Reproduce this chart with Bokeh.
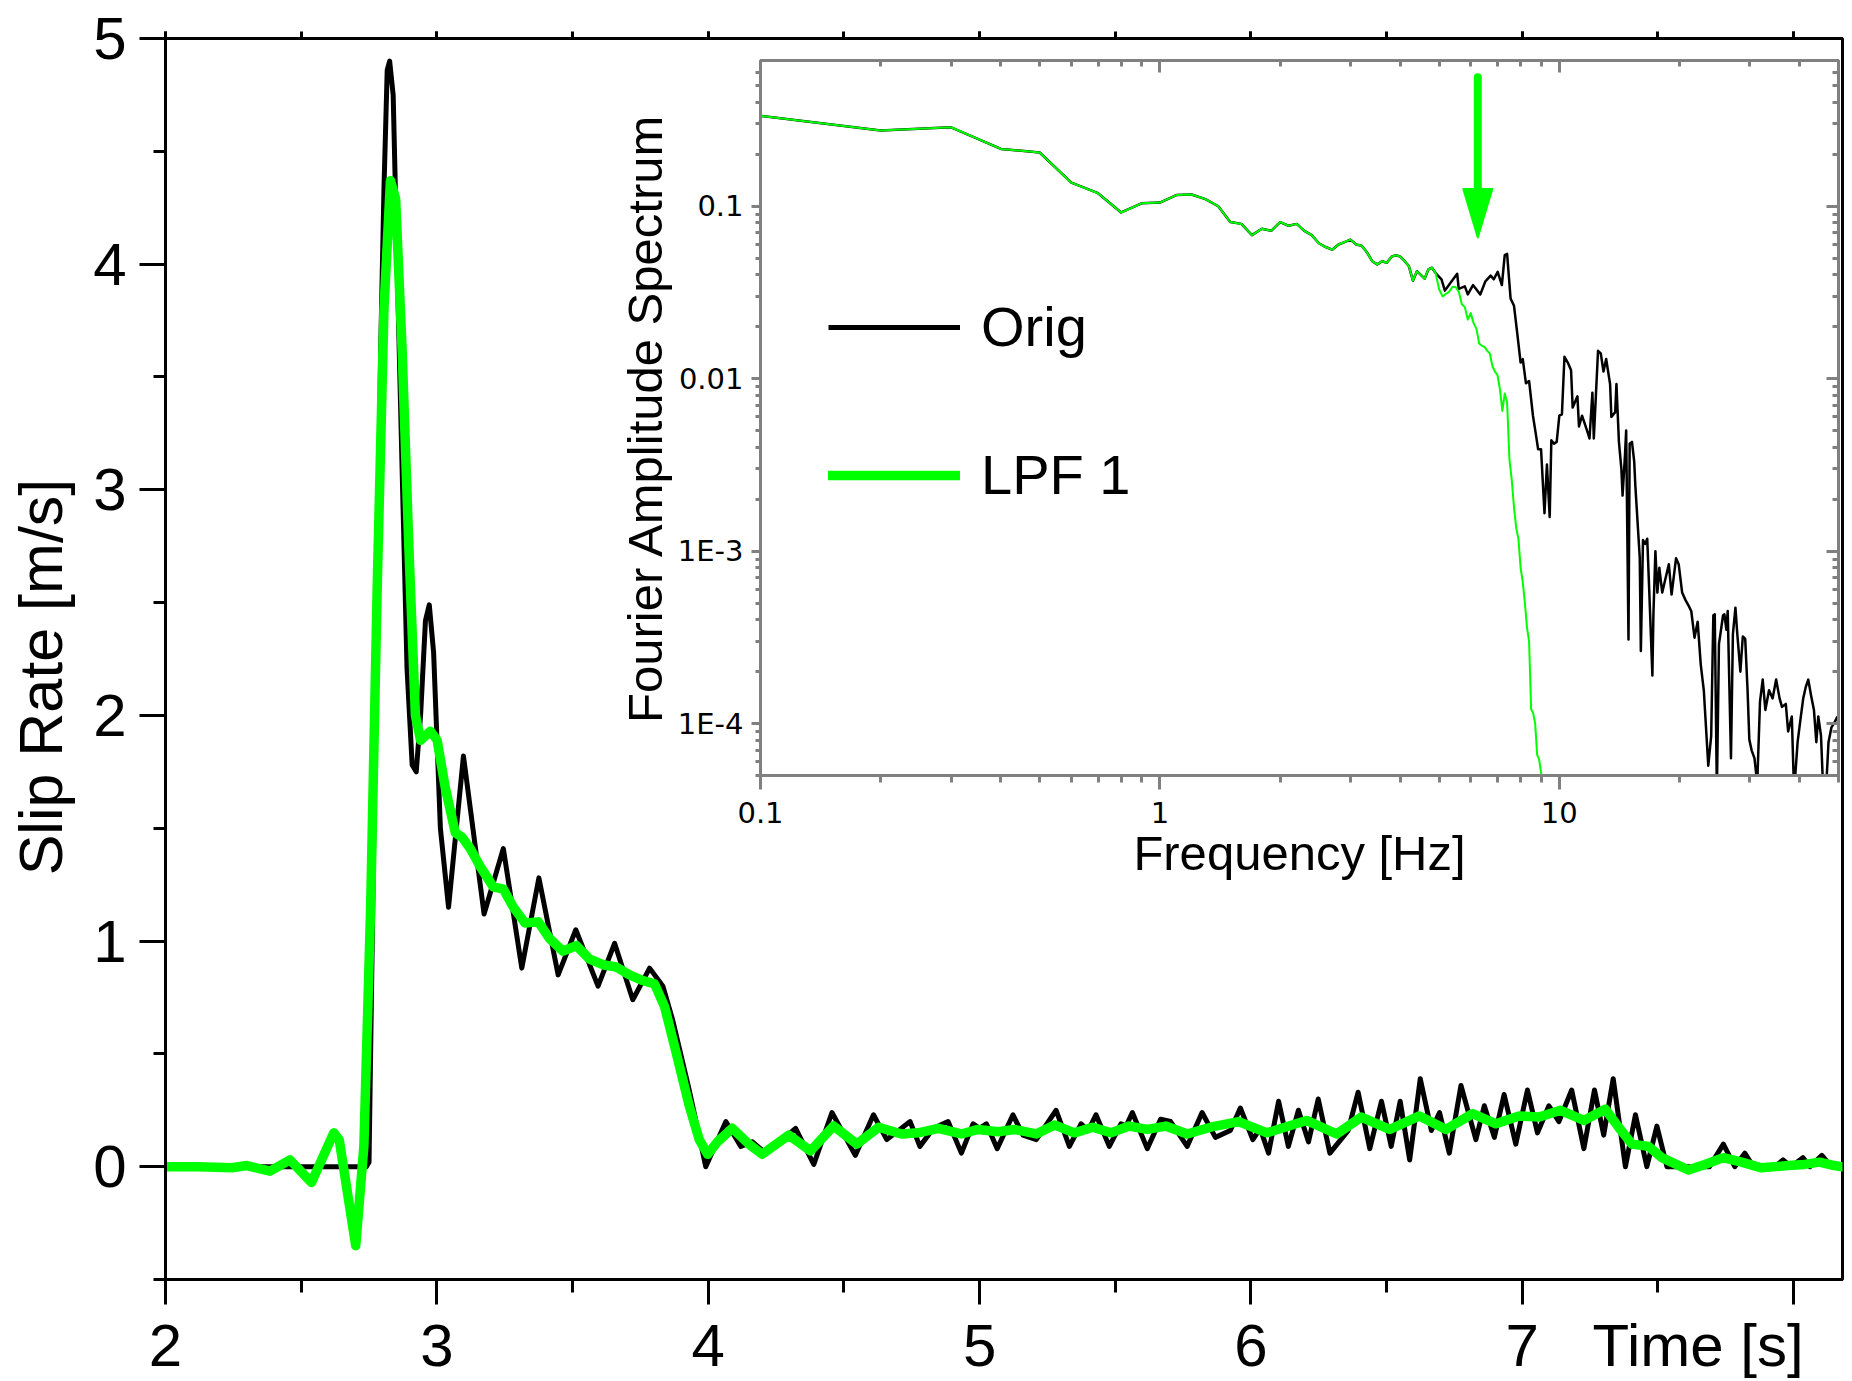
from bokeh.plotting import figure
from bokeh.models import (Range1d, SingleIntervalTicker, LinearAxis, LogAxis, FixedTicker,
                          Legend, LegendItem)
from bokeh.layouts import column
from bokeh.embed import file_html
from bokeh.resources import INLINE

# ---------------- data: slip-rate time series ----------------
orig_t = [2.00, 2.74, 2.750, 2.768, 2.793, 2.805, 2.817, 2.826, 2.839, 2.854, 2.872, 2.890,
          2.909, 2.924, 2.940, 2.958, 2.972, 2.988, 3.013, 3.043, 3.098, 3.174, 3.245, 3.313,
          3.376, 3.447, 3.512, 3.594, 3.655, 3.722, 3.784, 3.833, 3.869, 3.930, 3.991, 4.065,
          4.120, 4.163, 4.212, 4.322, 4.389, 4.456, 4.542, 4.609, 4.658, 4.744, 4.780, 4.830,
          4.884, 4.933, 4.976, 5.000, 5.025, 5.065, 5.123, 5.160, 5.209, 5.282, 5.331, 5.374,
          5.400, 5.429, 5.478, 5.521, 5.540, 5.563, 5.618, 5.667, 5.704, 5.765, 5.820, 5.869,
          5.924, 5.961, 6.007, 6.034, 6.065, 6.102, 6.138, 6.175, 6.212, 6.248, 6.291, 6.358,
          6.395, 6.438, 6.481, 6.517, 6.550, 6.585, 6.624, 6.665, 6.695, 6.731, 6.774, 6.829,
          6.860, 6.897, 6.933, 6.976, 7.019, 7.056, 7.098, 7.135, 7.182, 7.227, 7.266, 7.300,
          7.335, 7.380, 7.417, 7.459, 7.496, 7.533, 7.612, 7.690, 7.741, 7.783, 7.820, 7.851,
          7.930, 7.961, 7.990, 8.034, 8.060, 8.104, 8.138, 8.200]
orig_v = [0.00, 0.00, 0.02, 1.50, 3.62, 4.33, 4.86, 4.90, 4.75, 3.98, 3.09, 2.21,
          1.78, 1.75, 2.00, 2.42, 2.49, 2.28, 1.50, 1.15, 1.82, 1.12, 1.41, 0.88,
          1.28, 0.85, 1.05, 0.80, 0.99, 0.74, 0.88, 0.80, 0.65, 0.34, 0.00, 0.20,
          0.09, 0.11, 0.06, 0.17, 0.01, 0.24, 0.05, 0.23, 0.12, 0.20, 0.09, 0.17,
          0.20, 0.06, 0.19, 0.17, 0.19, 0.08, 0.23, 0.14, 0.12, 0.25, 0.09, 0.19,
          0.16, 0.23, 0.09, 0.19, 0.18, 0.24, 0.08, 0.21, 0.20, 0.09, 0.24, 0.13,
          0.16, 0.26, 0.12, 0.17, 0.06, 0.29, 0.09, 0.25, 0.11, 0.30, 0.06, 0.16,
          0.33, 0.08, 0.29, 0.09, 0.29, 0.03, 0.39, 0.16, 0.24, 0.06, 0.36, 0.12,
          0.27, 0.13, 0.32, 0.10, 0.34, 0.15, 0.27, 0.20, 0.34, 0.08, 0.34, 0.14,
          0.39, 0.00, 0.23, 0.00, 0.18, 0.00, 0.00, 0.00, 0.10, 0.00, 0.06, 0.00,
          0.00, 0.03, 0.00, 0.04, 0.00, 0.05, 0.00, 0.00]

lpf_t = [2.000, 2.120, 2.245, 2.300, 2.385, 2.459, 2.538, 2.620, 2.640, 2.701, 2.731, 2.756,
         2.780, 2.805, 2.829, 2.848, 2.872, 2.897, 2.921, 2.940, 2.976, 3.001, 3.031, 3.068,
         3.093, 3.123, 3.160, 3.208, 3.245, 3.282, 3.325, 3.374, 3.416, 3.465, 3.514, 3.563,
         3.612, 3.661, 3.710, 3.759, 3.802, 3.839, 3.881, 3.930, 3.967, 3.998, 4.034, 4.089,
         4.150, 4.199, 4.297, 4.377, 4.462, 4.548, 4.628, 4.713, 4.774, 4.848, 4.933, 4.995,
         5.068, 5.129, 5.209, 5.276, 5.349, 5.417, 5.484, 5.551, 5.618, 5.686, 5.765, 5.851,
         5.955, 6.059, 6.205, 6.316, 6.407, 6.511, 6.621, 6.719, 6.817, 6.903, 6.988, 7.062,
         7.141, 7.227, 7.306, 7.355, 7.404, 7.465, 7.514, 7.612, 7.673, 7.741, 7.808, 7.881,
         7.979, 8.040, 8.095, 8.150, 8.200]
lpf_v = [0.000, 0.000, -0.005, 0.005, -0.020, 0.030, -0.070, 0.150, 0.120, -0.350, 0.090, 1.150,
         2.560, 3.800, 4.370, 4.290, 3.620, 2.740, 2.000, 1.890, 1.930, 1.890, 1.680, 1.480,
         1.460, 1.410, 1.330, 1.240, 1.230, 1.150, 1.080, 1.085, 1.010, 0.955, 0.980, 0.920,
         0.895, 0.885, 0.850, 0.825, 0.810, 0.710, 0.510, 0.270, 0.120, 0.055, 0.110, 0.170,
         0.100, 0.055, 0.140, 0.070, 0.180, 0.100, 0.175, 0.145, 0.150, 0.170, 0.145, 0.165,
         0.155, 0.165, 0.145, 0.185, 0.150, 0.175, 0.150, 0.180, 0.165, 0.180, 0.145, 0.175,
         0.200, 0.150, 0.205, 0.145, 0.220, 0.165, 0.225, 0.165, 0.235, 0.190, 0.225, 0.220,
         0.250, 0.205, 0.255, 0.175, 0.100, 0.090, 0.040, -0.015, 0.010, 0.040, 0.020, -0.005,
         0.005, 0.010, 0.020, 0.005, -0.005]

# ---------------- data: Fourier amplitude spectrum ----------------
# part shared by both spectra (identical below ~4.9 Hz)
spec_f_common = [0.1, 0.2, 0.3, 0.4, 0.5, 0.6, 0.7, 0.8, 0.9, 1.0, 1.1, 1.2, 1.3, 1.4, 1.5,
                 1.6, 1.7, 1.8, 1.9, 2.0, 2.1, 2.2, 2.3, 2.4, 2.5, 2.6, 2.7, 2.8, 2.9, 3.0,
                 3.1, 3.2, 3.3, 3.4, 3.5, 3.6, 3.7, 3.8, 3.9, 4.0, 4.1, 4.2, 4.3, 4.4, 4.5,
                 4.6, 4.7, 4.8, 4.9]
spec_a_common = [0.334, 0.275, 0.287, 0.215, 0.205, 0.137, 0.119, 0.092, 0.104, 0.105, 0.116,
                 0.117, 0.110, 0.100, 0.081, 0.079, 0.068, 0.074, 0.072, 0.081, 0.077, 0.079,
                 0.072, 0.068, 0.061, 0.058, 0.056, 0.060, 0.062, 0.064, 0.060, 0.059, 0.054,
                 0.048, 0.046, 0.048, 0.047, 0.051, 0.052, 0.051, 0.048, 0.045, 0.037, 0.042,
                 0.040, 0.038, 0.043, 0.044, 0.041]

lpf_f_high = [5.0, 5.1, 5.2, 5.3, 5.4, 5.5, 5.6, 5.7, 5.8, 5.9, 6.0, 6.1, 6.2, 6.3, 6.4, 6.5,
              6.6, 6.7, 6.8, 6.9, 7.0, 7.1, 7.2, 7.3, 7.4, 7.5, 7.6, 7.7, 7.8, 7.9, 8.0, 8.1,
              8.2, 8.3, 8.4, 8.5, 8.6, 8.7, 8.8, 8.9, 9.0, 9.1]
lpf_a_high = [0.033, 0.030, 0.031, 0.032, 0.034, 0.034, 0.032, 0.027, 0.026, 0.022, 0.024,
              0.021, 0.0195, 0.016, 0.0155, 0.0153, 0.0145, 0.014, 0.0118, 0.011, 0.0105,
              0.0087, 0.0065, 0.0082, 0.0073, 0.0034, 0.0026, 0.0018, 0.00136, 0.00118, 0.0008,
              0.00066, 0.0005, 0.00036, 0.0003, 0.000121, 0.000115, 0.0001, 0.000066, 0.000062,
              0.000052, 0.000045]

orig_f_high = [5.07, 5.17, 5.33, 5.55, 5.6, 5.8, 5.9, 6.08, 6.34, 6.53, 6.73, 6.85, 7.01, 7.18,
               7.3, 7.4, 7.55, 7.7, 7.84, 8.0, 8.1, 8.25, 8.4, 8.59, 8.73, 8.85, 9.0, 9.18, 9.31,
               9.46, 9.55, 9.7, 9.85, 10.0, 10.15, 10.3, 10.5, 10.7, 10.8, 11.1, 11.2, 11.4,
               11.7, 11.9, 12.1, 12.2, 12.5, 12.7, 12.9, 13.1, 13.4, 13.5, 13.8, 13.9, 14.1,
               14.3, 14.4, 14.6, 14.7, 14.9, 15.0, 15.2, 15.4, 15.5, 15.9, 16.0, 16.2, 16.4,
               16.6, 16.8, 17.1, 17.2, 17.4, 17.6, 17.8, 18.1, 18.8, 19.1, 19.6, 19.9, 20.3,
               20.7, 21.1, 21.4, 21.8, 22.2, 22.6, 23.0, 23.3, 23.6, 24.0, 24.3, 24.5, 24.8,
               25.1, 25.4, 25.7, 25.9, 26.2, 26.4, 26.9, 27.2, 27.6, 27.9, 28.4, 28.8, 29.2,
               29.6, 29.9, 30.3, 30.8, 31.3, 31.8, 32.3, 32.8, 33.5, 34.2, 34.9, 35.6, 36.1,
               36.9, 37.4, 38.2, 38.7, 39.5, 40.2, 40.8, 41.4, 42.0, 42.7, 43.4, 44.0, 44.5,
               45.2, 45.8, 46.5, 47.2, 48.0, 48.7, 49.7]
orig_a_high = [0.0377, 0.0324, 0.0358, 0.0406, 0.0332, 0.0343, 0.0308, 0.0349, 0.0308, 0.0367,
               0.0396, 0.0377, 0.0416, 0.0349, 0.0521, 0.053, 0.0292, 0.0265, 0.0186, 0.0124,
               0.013, 0.0094, 0.0097, 0.0061, 0.0048, 0.0039, 0.0039, 0.00166, 0.00318, 0.00158,
               0.0044, 0.0042, 0.0043, 0.0061, 0.0062, 0.0134, 0.0124, 0.0112, 0.0068, 0.0079,
               0.00528, 0.0061, 0.0051, 0.0045, 0.0083, 0.0045, 0.0145, 0.014, 0.011, 0.013,
               0.0093, 0.006, 0.0064, 0.0093, 0.0043, 0.003, 0.0021, 0.0036, 0.005, 0.000307,
               0.0042, 0.0043, 0.0033, 0.0024, 0.00091, 0.000264, 0.00116, 0.0011, 0.00118,
               0.000575, 0.00019, 0.000425, 0.001, 0.000575, 0.0008, 0.000575, 0.00084, 0.00056,
               0.00091, 0.00084, 0.000575, 0.00052, 0.00048, 0.000448, 0.000315, 0.00039,
               0.00022, 0.000156, 0.000094, 0.000057, 0.000085, 0.000425, 0.00043, 0.00004,
               0.00029, 0.00035, 0.000425, 0.00043, 0.00035, 0.00045, 0.000063, 0.00033,
               0.00047, 0.00033, 0.0002, 0.00032, 0.00031, 0.000156, 0.000081, 0.00007,
               0.000063, 0.000045, 0.000134, 0.00018, 0.00012, 0.000156, 0.00014, 0.00018,
               0.00014, 0.000125, 0.00013, 0.00009, 0.00011, 0.00004, 0.000078, 0.000108,
               0.00014, 0.000163, 0.00018, 0.000145, 0.00012, 0.000078, 0.00011, 0.000085,
               0.00004, 0.00004, 0.000078, 0.000095, 0.0001, 0.00011]

lpf_f = spec_f_common + lpf_f_high
lpf_a = spec_a_common + lpf_a_high
orig_f = spec_f_common + orig_f_high
orig_a = spec_a_common + orig_a_high

# tick labels
time_ticks = [2, 3, 4, 5, 6, 7, 8]
time_label_ticks = [2, 3, 4, 5, 6, 7]
time_labels = ["2", "3", "4", "5", "6", "7"]
freq_ticks = [0.1, 1.0, 10.0]
freq_labels = ["0.1", "1", "10"]
amp_ticks = [1e-4, 1e-3, 1e-2, 1e-1]
amp_labels = ["1E-4", "1E-3", "0.01", "0.1"]

# axis titles placed in the tick-label rows (positions along the axes, in data units)
TIME_TITLE = "Time [s]"
TIME_TITLE_AT = 7.648
RATE_TITLE = "Slip Rate [m/s]"
RATE_TITLE_AT = 2.17

# arrow marking the filter corner (frequency, top, head base, tip)
ARROW_F = 6.25
ARROW_TOP = 0.56
ARROW_BASE = 0.126
ARROW_TIP = 0.066

GREEN = "#00ff00"
GRAY = "#808080"
MAIN_FONT = "Liberation Sans"

# ---------------- main plot ----------------
p = figure(width=1852, height=1381, x_range=Range1d(2, 8.18), y_range=Range1d(-0.5, 5.0),
           output_backend="svg", toolbar_location=None,
           min_border_left=164, min_border_right=0, min_border_top=38, min_border_bottom=102,
           background_fill_color="white", border_fill_color="white")
p.grid.visible = False
p.outline_line_color = "black"
p.outline_line_width = 3

# x: tick marks (no labels) ...
xa = p.xaxis[0]
xa.ticker = SingleIntervalTicker(interval=1, num_minor_ticks=2)
xa.major_label_overrides = {t: "" for t in time_ticks}
xa.major_label_text_font_size = "1px"
xa.major_label_standoff = 0
xa.axis_line_width = 3
xa.major_tick_line_width = 3
xa.minor_tick_line_width = 3
xa.major_tick_in = 0
xa.minor_tick_in = 0
xa.major_tick_out = 25
xa.minor_tick_out = 13

# ... and a label row underneath holding the numbers and the axis title
label_ticks = time_label_ticks + [TIME_TITLE_AT]
xlab = LinearAxis(ticker=FixedTicker(ticks=label_ticks, minor_ticks=[]),
                  major_label_overrides=dict(zip(label_ticks, time_labels + [TIME_TITLE])),
                  axis_line_color=None, major_tick_line_color=None, minor_tick_line_color=None,
                  major_tick_out=0, minor_tick_out=0, major_tick_in=0, minor_tick_in=0,
                  major_label_standoff=7, major_label_text_font=MAIN_FONT,
                  major_label_text_font_size="60px", major_label_text_color="black")
p.add_layout(xlab, "below")

ya = p.yaxis[0]
ya.ticker = SingleIntervalTicker(interval=1, num_minor_ticks=2)
ya.axis_line_width = 3
ya.major_tick_line_width = 3
ya.minor_tick_line_width = 3
ya.major_tick_in = 0
ya.minor_tick_in = 0
ya.major_tick_out = 26
ya.minor_tick_out = 12
ya.major_label_standoff = 13
ya.major_label_text_font = MAIN_FONT
ya.major_label_text_font_size = "60px"
ya.major_label_text_color = "black"

ytitle = LinearAxis(ticker=FixedTicker(ticks=[RATE_TITLE_AT], minor_ticks=[]),
                    major_label_overrides={RATE_TITLE_AT: RATE_TITLE},
                    major_label_orientation="vertical",
                    axis_line_color=None, major_tick_line_color=None, minor_tick_line_color=None,
                    major_tick_out=0, minor_tick_out=0, major_tick_in=0, minor_tick_in=0,
                    major_label_standoff=15, major_label_text_font=MAIN_FONT,
                    major_label_text_font_size="61px", major_label_text_color="black")
p.add_layout(ytitle, "left")

top_axis = LinearAxis(ticker=SingleIntervalTicker(interval=1, num_minor_ticks=2),
                      major_label_overrides={t: "" for t in time_ticks},
                      major_label_text_font_size="1px", major_label_standoff=0,
                      axis_line_width=3, major_tick_line_width=3, minor_tick_line_width=3,
                      major_tick_in=0, minor_tick_in=0, major_tick_out=7, minor_tick_out=7)
p.add_layout(top_axis, "above")

r_orig = p.line(orig_t, orig_v, line_color="black", line_width=5, line_join="round")
r_lpf = p.line(lpf_t, lpf_v, line_color=GREEN, line_width=9.5, line_join="round",
               line_cap="round")

# legend (drawn by the main plot, seen through the transparent inset)
legend = Legend(items=[LegendItem(label="Orig", renderers=[r_orig]),
                       LegendItem(label="LPF 1", renderers=[r_lpf])],
                location=(663, 772), orientation="vertical",
                label_text_font=MAIN_FONT, label_text_font_size="56px",
                label_text_color="black",
                glyph_width=132, glyph_height=60, label_height=60, label_standoff=21,
                spacing=83, padding=0, margin=0,
                border_line_alpha=0, background_fill_alpha=0)
p.add_layout(legend)

# ---------------- inset: spectrum ----------------
q = figure(width=1253, height=835, x_axis_type="log", y_axis_type="log",
           x_range=Range1d(0.1, 50), y_range=Range1d(5e-5, 0.7),
           output_backend="svg", toolbar_location=None,
           min_border_left=165, min_border_right=10, min_border_top=10, min_border_bottom=110,
           background_fill_alpha=0, border_fill_alpha=0,
           margin=(-1331, 0, 496, 595))
q.grid.visible = False
q.outline_line_color = GRAY
q.outline_line_width = 3

x_minor = [m * 10.0 ** e for e in (-1, 0, 1) for m in range(2, 10) if m * 10.0 ** e <= 50]
y_minor = [m * 10.0 ** e for e in (-5, -4, -3, -2, -1) for m in range(2, 10)
           if 5e-5 <= m * 10.0 ** e <= 0.7]

qx = q.xaxis[0]
qx.ticker = FixedTicker(ticks=freq_ticks, minor_ticks=x_minor)
qx.major_label_overrides = dict(zip(freq_ticks, freq_labels))
qx.major_tick_out = 14
qx.minor_tick_out = 7
qx.major_label_standoff = 12
qx.axis_label = "Frequency [Hz]"
qx.axis_label_standoff = 0

qy = q.yaxis[0]
qy.ticker = FixedTicker(ticks=amp_ticks, minor_ticks=y_minor)
qy.major_label_overrides = dict(zip(amp_ticks, amp_labels))
qy.major_tick_out = 9
qy.minor_tick_out = 5
qy.major_label_standoff = 8
qy.axis_label = "Fourier Amplitude Spectrum"
qy.axis_label_standoff = 3

for ax in (qx, qy):
    ax.axis_line_color = GRAY
    ax.axis_line_width = 3
    ax.major_tick_line_color = GRAY
    ax.minor_tick_line_color = GRAY
    ax.major_tick_line_width = 3
    ax.minor_tick_line_width = 3
    ax.major_tick_in = 0
    ax.minor_tick_in = 0
    ax.major_label_text_font = "DejaVu Sans"
    ax.major_label_text_font_size = "29px"
    ax.major_label_text_color = "black"
    ax.axis_label_text_font = MAIN_FONT
    ax.axis_label_text_font_size = "49px"
    ax.axis_label_text_font_style = "normal"
    ax.axis_label_text_color = "black"

q_top = LogAxis(ticker=FixedTicker(ticks=freq_ticks, minor_ticks=x_minor),
                major_label_overrides={t: "" for t in freq_ticks},
                major_label_text_font_size="1px", major_label_standoff=0,
                axis_line_color=GRAY, axis_line_width=3,
                major_tick_line_color=GRAY, minor_tick_line_color=GRAY,
                major_tick_line_width=3, minor_tick_line_width=3,
                major_tick_out=0, minor_tick_out=0, major_tick_in=12, minor_tick_in=6)
q.add_layout(q_top, "above")
q_right = LogAxis(ticker=FixedTicker(ticks=amp_ticks, minor_ticks=y_minor),
                  major_label_overrides={t: "" for t in amp_ticks},
                  major_label_text_font_size="1px", major_label_standoff=0,
                  axis_line_color=GRAY, axis_line_width=3,
                  major_tick_line_color=GRAY, minor_tick_line_color=GRAY,
                  major_tick_line_width=3, minor_tick_line_width=3,
                  major_tick_out=0, minor_tick_out=0, major_tick_in=12, minor_tick_in=6)
q.add_layout(q_right, "right")

q.line(orig_f, orig_a, line_color="black", line_width=2.5, line_join="round")
q.line(lpf_f, lpf_a, line_color=GREEN, line_width=2, line_join="round")

# arrow
head_w = 10 ** (14.5 / 399.4)
q.segment(x0=[ARROW_F], y0=[ARROW_TOP], x1=[ARROW_F], y1=[ARROW_BASE],
          line_color=GREEN, line_width=8, line_cap="round")
q.patch(x=[ARROW_F / head_w, ARROW_F * head_w, ARROW_F], y=[ARROW_BASE, ARROW_BASE, ARROW_TIP],
        fill_color=GREEN, line_color=GREEN, line_width=2, line_join="round")

layout = column(p, q)
open("out.html", "w").write(file_html(layout, INLINE))
